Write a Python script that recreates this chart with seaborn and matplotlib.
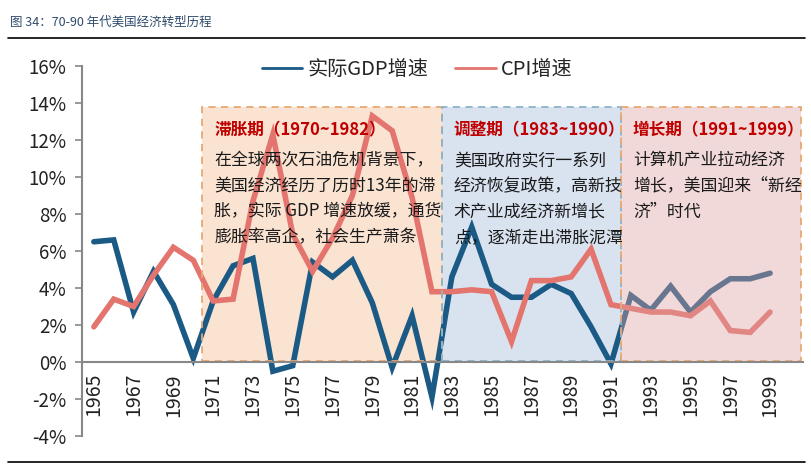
import numpy as np
import pandas as pd
import matplotlib.pyplot as plt
import seaborn as sns
from matplotlib.patches import Rectangle
from matplotlib.lines import Line2D

# Data
years = list(range(1965, 2000))
gdp = [6.5, 6.6, 2.7, 4.9, 3.1, 0.2, 3.3, 5.2, 5.6, -0.5, -0.2, 5.4, 4.6, 5.5, 3.2, -0.3, 2.5, -1.9,
       4.6, 7.3, 4.2, 3.5, 3.5, 4.2, 3.7, 1.9, -0.1, 3.6, 2.8, 4.1, 2.7, 3.8, 4.5, 4.5, 4.8]
cpi = [1.9, 3.4, 3.0, 4.7, 6.2, 5.5, 3.3, 3.4, 8.7, 12.3, 6.9, 4.9, 6.7, 9.0, 13.3, 12.5, 8.9, 3.8,
       3.8, 3.9, 3.8, 1.1, 4.4, 4.4, 4.6, 6.1, 3.1, 2.9, 2.7, 2.7, 2.5, 3.3, 1.7, 1.6, 2.7]
series_names = ['实际GDP增速', 'CPI增速']

periods = ['滞胀期（1970~1982）', '调整期（1983~1990）', '增长期（1991~1999）']
period_span = [(1970.45, 1982.5), (1982.5, 1991.5), (1991.5, 2000.55)]
period_text = [
    '在全球两次石油危机背景下，\n美国经济经历了历时13年的滞\n胀，实际 GDP 增速放缓，通货\n膨胀率高企，社会生产萧条',
    '美国政府实行一系列\n经济恢复政策，高新技\n术产业成经济新增长\n点，逐渐走出滞胀泥潭',
    '计算机产业拉动经济\n增长，美国迎来“新经\n济”时代',
]

df = pd.DataFrame({
    'year': years * 2,
    'value': gdp + cpi,
    'series': [series_names[0]] * len(years) + [series_names[1]] * len(years),
})

sns.set_style('white')
plt.rcParams['font.family'] = ['Noto Sans CJK SC', 'DejaVu Sans']

fig = plt.figure(figsize=(8.11, 4.65), dpi=100)
ax = fig.add_axes([0.101, 0.0624, 0.889, 0.7956])

blue = '#1a5a85'
red = '#e3746e'

# shaded period boxes
fills = ['#fbe3d2', '#d9e3f0', '#dea2a2']
edges = ['#e8a873', '#8db3c9', '#e8a873']
alphas = [1.0, 1.0, 0.4]
zs = [1, 1, 5]
for (x0, x1), fc, ec, a, z in zip(period_span, fills, edges, alphas, zs):
    ax.add_patch(Rectangle((x0, 0.05), x1 - x0, 13.75, facecolor=fc, edgecolor='none',
                           alpha=a, zorder=z))
    ax.add_patch(Rectangle((x0, 0.05), x1 - x0, 13.75, facecolor='none', edgecolor=ec,
                           lw=1.3, ls=(0, (4, 3)), zorder=6))

sns.lineplot(data=df, x='year', y='value', hue='series', palette=[blue, red],
             linewidth=4, ax=ax, legend=False, zorder=3)
for line in ax.lines:
    line.set_solid_joinstyle('miter')

for name, (x0, x1), txt in zip(periods, period_span, period_text):
    ax.text(x0 + 0.6, 12.5, name, color='#c00000', fontsize=12, fontweight='bold',
            va='center', ha='left', zorder=7)
    ax.text(x0 + 0.6, 11.4, txt, color='#1a1a1a', fontsize=12.2, va='top', ha='left',
            linespacing=1.55, zorder=7)

ax.set_xlim(1964.4, 2000.65)
ax.set_ylim(-4, 16)
ax.set_xlabel('')
ax.set_ylabel('')

ax.set_yticks(range(-4, 17, 2))
ax.set_yticklabels([f'{v}%' for v in range(-4, 17, 2)])
ax.set_xticks(years[::2])
ax.set_xticklabels([str(y) for y in years[::2]])
ax.set_xticks(np.arange(1966.5, 2000, 2), minor=True)
ax.tick_params(axis='x', which='major', length=0, pad=8, labelrotation=90,
               labelsize=14, labelcolor='#222222')
ax.tick_params(axis='x', which='minor', length=5, direction='out', color='#888888', width=1.2)
ax.tick_params(axis='y', length=5, direction='out', color='#888888', width=1.2, pad=6, left=True,
               labelsize=13.5, labelcolor='#222222')

for s in ['top', 'right']:
    ax.spines[s].set_visible(False)
ax.spines['bottom'].set_position(('data', 0))
ax.spines['bottom'].set_color('#888888')
ax.spines['bottom'].set_linewidth(1.5)
ax.spines['left'].set_color('#888888')
ax.spines['left'].set_linewidth(1.5)
ax.spines['bottom'].set_zorder(8)

handles = [Line2D([0], [0], color=blue, lw=2), Line2D([0], [0], color=red, lw=2)]
ax.legend(handles, series_names, loc='center', bbox_to_anchor=(0.465, 0.99), ncol=2,
          frameon=False, fontsize=14.5, handlelength=2.0, columnspacing=1.35, handletextpad=0.25)

fig.text(0.012, 0.952, '图 34：70-90 年代美国经济转型历程', fontsize=9, color='#2f4a6b', va='center')
fig.add_artist(Line2D([0.01, 0.993], [0.918, 0.918], color='black', lw=1.2))
fig.add_artist(Line2D([0.01, 0.993], [0.006, 0.006], color='black', lw=1.2))

fig.savefig('out.png', dpi=100)
